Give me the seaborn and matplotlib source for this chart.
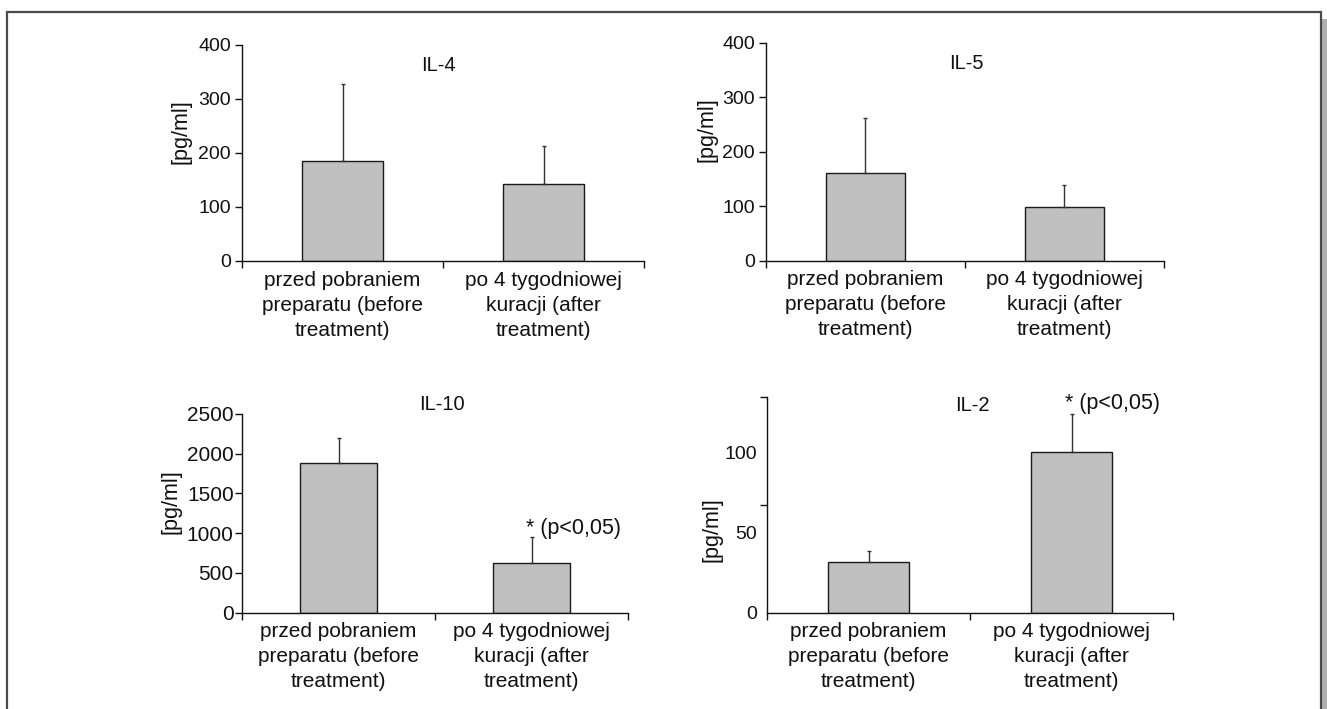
import matplotlib
matplotlib.use("Agg")
import matplotlib.pyplot as plt
from matplotlib.patches import Rectangle
from matplotlib.ticker import FixedLocator
import seaborn as sns
import pandas as pd

categories = ["przed pobraniem\npreparatu (before\ntreatment)",
              "po 4 tygodniowej\nkuracji (after\ntreatment)"]

il4_mean = [185, 142]
il4_err = [142, 70]
il5_mean = [160, 99]
il5_err = [102, 39]
il10_mean = [1884, 628]
il10_err = [314, 319]
il2_mean = [31.7, 100]
il2_err = [6.7, 24]

sns.set_style("ticks")
plt.rcParams['font.family'] = ['Liberation Sans', 'DejaVu Sans']
plt.rcParams['font.size'] = 14
plt.rcParams['text.color'] = '#111111'
plt.rcParams['xtick.color'] = '#111111'
plt.rcParams['ytick.color'] = '#111111'

fig = plt.figure(figsize=(13.27, 7.09), dpi=100)

# axes boxes in figure fractions
boxes = {
    "IL-4": [0.1824, 0.6319, 0.3029, 0.3047],
    "IL-5": [0.5772, 0.6323, 0.2999, 0.3075],
    "IL-10": [0.1824, 0.1358, 0.2909, 0.2807],
    "IL-2": [0.5780, 0.1358, 0.3060, 0.3042],
}
# name, means, upper errors, ymax, yticks, tick font, tick pad, title pos, ylabel pos
panels = [
    ("IL-4", il4_mean, il4_err, 400, [0, 100, 200, 300, 400], 14, 3, (0.488, 0.907), (-0.153, 0.60)),
    ("IL-5", il5_mean, il5_err, 400, [0, 100, 200, 300, 400], 14, 3, (0.504, 0.905), (-0.148, 0.60)),
    ("IL-10", il10_mean, il10_err, 2500, [0, 500, 1000, 1500, 2000, 2500], 15, 1, (0.517, 1.044), (-0.185, 0.558)),
    ("IL-2", il2_mean, il2_err, 134.4, [0, 50, 100], 14, 7, (0.505, 0.963), (-0.135, 0.383)),
]

for name, mean, err, ymax, yticks, tfs, tpad, tpos, ylab in panels:
    ax = fig.add_axes(boxes[name])
    df = pd.DataFrame({"grupa": categories, "val": mean})
    sns.barplot(data=df, x="grupa", y="val", ax=ax, width=0.4, color="#c0c0c0",
                saturation=1, edgecolor="#1a1a1a", linewidth=1, errorbar=None)
    ax.errorbar([0, 1], mean, yerr=[[0, 0], err], fmt="none", ecolor="#333333",
                elinewidth=1, capsize=1.5, capthick=1)
    ax.set_xlim(-0.5, 1.5)
    ax.set_ylim(0, ymax)
    ax.set_xlabel("")
    ax.set_ylabel("")
    sns.despine(ax=ax)
    for s in ["left", "bottom"]:
        ax.spines[s].set_color("#111111")
        ax.spines[s].set_linewidth(1)

    # category labels between boundary ticks
    ax.set_xticks([0, 1])
    ax.set_xticklabels(categories, linespacing=1.4, fontsize=15)
    ax.xaxis.set_minor_locator(FixedLocator([-0.5, 0.5, 1.5]))
    ax.tick_params(axis="x", which="major", length=0, pad=7)
    ax.tick_params(axis="x", which="minor", length=5, width=1, direction="out")

    ax.set_yticks(yticks)
    if name == "IL-2":
        ax.yaxis.set_minor_locator(FixedLocator([0, 67.2, 134.4]))
        ax.tick_params(axis="y", which="major", length=0, pad=tpad, labelsize=tfs)
        ax.tick_params(axis="y", which="minor", length=5, width=1, direction="out")
    else:
        ax.tick_params(axis="y", which="major", length=5, width=1, direction="out",
                       pad=tpad, labelsize=tfs)

    ax.text(tpos[0], tpos[1], name, transform=ax.transAxes, ha="center", va="center", fontsize=14.5)
    ax.text(ylab[0], ylab[1], "[pg/ml]", transform=ax.transAxes, rotation=90,
            ha="center", va="center", fontsize=15.5)

    if name == "IL-10":
        ax.text(0.97, 1064, "* (p<0,05)", ha="left", va="center", fontsize=15.5)
    if name == "IL-2":
        ax.text(0.97, 130.3, "* (p<0,05)", ha="left", va="center", fontsize=15.5)

# outer frame with shadow on the right
fig.add_artist(Rectangle((1322 / 1327, 0), 5 / 1327, 1 - 19 / 709,
                         transform=fig.transFigure, facecolor="#b0b0b0", edgecolor="none"))
fig.add_artist(Rectangle((7 / 1327, -0.05), 1314 / 1327, 1.05 - 12 / 709,
                         transform=fig.transFigure, facecolor="none", edgecolor="#4a4a4a",
                         linewidth=1.6))

fig.savefig("out.png", dpi=100)
